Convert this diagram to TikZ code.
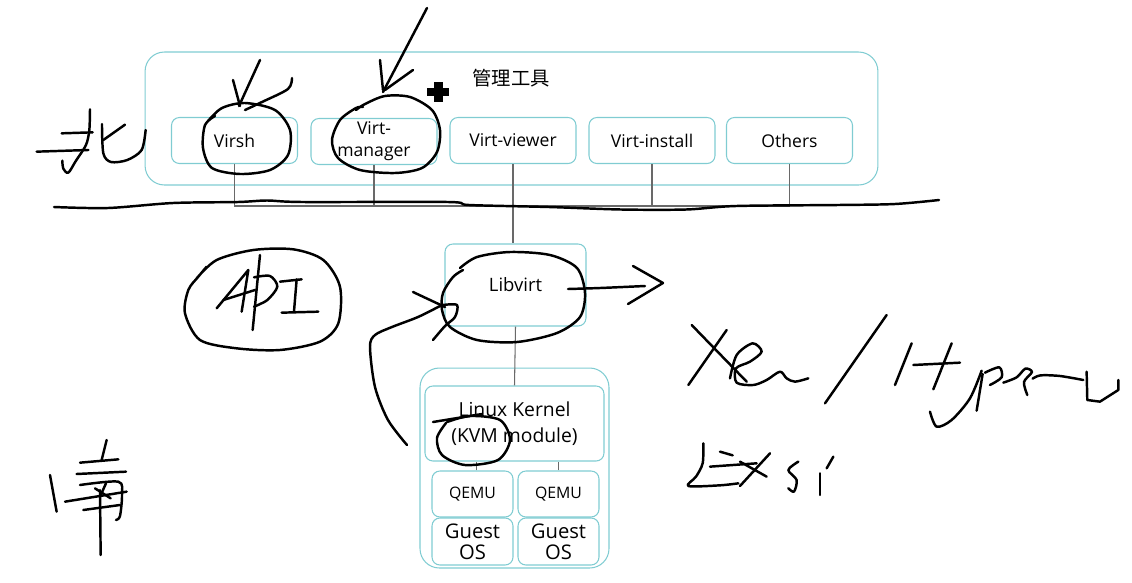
\documentclass[tikz,border=0pt]{standalone}
\usepackage{fontspec}
\setmainfont{Open Sans}
\newfontfamily\cjkfont{Noto Sans CJK SC}
\usepackage{tikz}
\usetikzlibrary{positioning, calc}
\definecolor{boxcyan}{RGB}{128,204,210}
\definecolor{linkgray}{RGB}{105,105,105}

\begin{document}
\begin{tikzpicture}[x=0.02cm, y=-0.02cm,
  group/.style={draw=boxcyan, line width=0.6pt, rounded corners=11pt, inner sep=0pt},
  tool/.style={draw=boxcyan, line width=0.6pt, rounded corners=4.5pt, inner sep=0pt, align=center,
    minimum width=2.52cm, minimum height=0.92cm, font=\fontsize{10}{12.5}\selectfont},
  vmbox/.style={tool, minimum width=1.62cm},
  link/.style={linkgray, line width=0.6pt},
  ink/.style={black, line width=1.4pt, line cap=round, line join=round}]
  \useasboundingbox (0,0) rectangle (1132,582);
  %% Management tools
  \node[group, minimum width=14.66cm, minimum height=2.66cm] (mgmt) at (511.5,118.5) {};
  \node[font=\cjkfont\fontsize{11}{13}\selectfont] (mgmtlabel) at (511,78) {管理工具};
  \node[tool] (virsh) at (234.5,140.5) {Virsh};
  \node[tool] (virtmgr) at (374,141.5) {Virt-\\manager};
  \node[tool] (viewer) at (513,140.5) {Virt-viewer};
  \node[tool] (install) at (652,140.5) {Virt-install};
  \node[tool] (others) at (789.5,140.5) {Others};
  %% Libvirt and the host
  \node[tool, minimum width=2.82cm, minimum height=1.64cm, font=\fontsize{10.5}{12}\selectfont] (libvirt) at (515.5,285) {Libvirt};
  \node[group, minimum width=3.78cm, minimum height=4cm] (host) at (514.5,468) {};
  \node[tool, minimum width=3.58cm, minimum height=1.5cm, font=\fontsize{11}{15}\selectfont] (kernel) at (514.5,423.5) {Linux Kernel\\(KVM module)};
  \node[vmbox, font=\fontsize{9}{11}\selectfont] (qemua) at (472.5,494) {QEMU};
  \node[vmbox, font=\fontsize{9}{11}\selectfont] (qemub) at (558.5,494) {QEMU};
  \node[vmbox, minimum height=0.94cm, font=\fontsize{11.5}{12}\selectfont] (guesta) at (472.5,541.5) {Guest\\OS};
  \node[vmbox, minimum height=0.94cm, font=\fontsize{11.5}{12}\selectfont] (guestb) at (558.5,541.5) {Guest\\OS};
  %% Connections
  \coordinate (bus) at (0,206);
  \draw[link] (virsh.south) -- (virsh.south |- bus) -- (others.south |- bus) -- (others.south);
  \draw[link] (virtmgr.south) -- (virtmgr.south |- bus);
  \draw[link] (install.south) -- (install.south |- bus);
  \draw[link] (viewer.south) -- (viewer.south |- libvirt.north);
  \draw[link] (libvirt.south) -- (kernel.north);
  \draw[link] ($(qemua.north)+(4,0)$) -- ($(qemua.north |- kernel.south)+(4,0)$);
  \draw[link] (qemub.north) -- (qemub.north |- kernel.south);
  %% Cursor mark
  \fill (434,82) rectangle (443,102);
  \fill (427,88) rectangle (449,96);
  %% Hand drawn notes
  \draw[ink] plot[smooth] coordinates {(54,207) (108,208) (173,203) (238,202) (267,200.5) (303,202) (448,202) (469,205) (549,207) (621,209.5) (686,209.5) (736,206) (838,205) (895,204) (939,200)};
  \draw[ink] plot[smooth] coordinates {(208,121) (222,108) (245,103) (275,110) (290,130) (288,155) (270,170) (240,174) (212,168) (203,148) (205,125) (215,116)};
  \draw[ink] (260,60) -- (239,106);
  \draw[ink] (233,80) -- (240,106);
  \draw[ink] plot[smooth] coordinates {(292,78) (288,89) (262,102) (245,110)};
  \draw[ink] plot[smooth] coordinates {(356,110) (365,104) (385,96) (410,97) (432,110) (440,130) (437,152) (422,168) (395,173) (360,170) (338,158) (332,140) (340,120) (356,108) (363,107)};
  \draw[ink] (427,8) -- (383,92);
  \draw[ink] (380,60) -- (383,90);
  \draw[ink] (413,70) -- (385,90);
  \draw[ink] plot[smooth] coordinates {(460,268) (477,257) (510,252) (550,255) (577,268) (585,293) (580,317) (557,333) (517,342) (477,340) (450,327) (442,310) (443,293) (453,277) (463,270)};
  \draw[ink] plot[smooth] coordinates {(568,289) (600,288) (645,286)};
  \draw[ink] (633,266) -- (663,283) -- (628,304);
  \draw[ink] plot[smooth] coordinates {(407,445) (388,420) (375,387) (370,347) (375,335) (392,327) (418,317) (440,306)};
  \draw[ink] (413,292) -- (445,307);
  \draw[ink] plot[smooth] coordinates {(443,305) (457,305) (455,317) (445,326) (433,340)};
  \draw[ink] plot[smooth] coordinates {(447,422) (470,416) (500,420) (510,440) (498,460) (465,465) (442,455) (437,438) (446,423)};
  \draw[ink] (433,422) -- (482,414);
  %% North
  \begin{scope}[shift={(0,90)}, scale=0.3333]
    \draw[ink] (110,185) -- (265,180);
    \draw[ink] (185,130) -- (278,127);
    \draw[ink] plot[smooth] coordinates {(270,58) (268,120) (258,165) (228,212) (205,248) (190,236) (187,212)};
    \draw[ink] plot[smooth] coordinates {(306,102) (310,190) (333,216) (382,210) (425,180) (437,120)};
    \draw[ink] (310,150) -- (375,104);
  \end{scope}
  %% API
  \begin{scope}[shift={(170,240)}, scale=0.3333]
    \draw[ink] plot[smooth] coordinates {(80,115) (140,60) (250,30) (370,28) (460,60) (510,140) (505,250) (450,305) (330,330) (200,325) (90,300) (45,220) (55,150) (85,110) (110,80)};
    \draw[ink] (140,205) -- (235,90) -- (215,215);
    \draw[ink] (160,180) -- (255,150);
    \draw[ink] (270,45) -- (248,270);
    \draw[ink] plot[smooth] coordinates {(252,112) (300,108) (322,140) (292,180) (252,200)};
    \draw[ink] (330,125) -- (395,118);
    \draw[ink] (380,118) -- (372,215);
    \draw[ink] (335,218) -- (445,215);
  \end{scope}
  %% South
  \begin{scope}[shift={(30,440)}, scale=0.3333]
    \draw[ink] (60,105) -- (80,215);
    \draw[ink] (230,0) -- (215,60);
    \draw[ink] (150,68) -- (265,58);
    \draw[ink] (140,102) -- (288,95);
    \draw[ink] plot[smooth] coordinates {(150,135) (265,125) (276,165) (270,228) (258,240)};
    \draw[ink] (195,145) -- (242,175);
    \draw[ink] (228,130) -- (210,170);
    \draw[ink] (105,185) -- (290,155);
    \draw[ink] (160,210) -- (270,195);
    \draw[ink] (210,150) -- (212,345);
  \end{scope}
  %% Other hypervisors
  \begin{scope}[shift={(670,300)}, scale=0.3333]
    \draw[ink] (65,75) -- (230,245);
    \draw[ink] (170,90) -- (55,255);
    \draw[ink] plot[smooth] coordinates {(180,235) (200,165) (248,130) (275,155) (240,185) (198,205) (200,248) (250,255) (290,240) (330,215) (350,235) (375,245) (415,235)};
    \draw[ink] (650,45) -- (465,310);
    \draw[ink] (725,130) -- (675,255);
    \draw[ink] (730,195) -- (870,188);
    \draw[ink] (845,130) -- (790,268);
    \draw[ink] plot[smooth] coordinates {(780,335) (800,380) (845,360) (900,295) (935,212)};
    \draw[ink] (938,222) -- (920,332);
    \draw[ink] plot[smooth] coordinates {(945,218) (988,202) (995,232) (960,255)};
    \draw[ink] plot[smooth] coordinates {(1000,248) (1040,232) (1066,206) (1086,216) (1062,246) (1072,285)};
    \draw[ink] plot[smooth] coordinates {(1088,236) (1112,226) (1170,228) (1240,240)};
    \draw[ink] (1250,215) -- (1252,300) -- (1290,305) -- (1345,270) -- (1345,240);
    \draw[ink] plot[smooth] coordinates {(100,430) (98,490) (78,530) (55,558) (150,556) (205,550)};
    \draw[ink] (150,455) -- (188,466);
    \draw[ink] (120,500) -- (260,490);
    \draw[ink] (210,485) -- (290,530);
    \draw[ink] (300,460) -- (210,558);
    \draw[ink] plot[smooth] coordinates {(385,485) (355,510) (380,540) (372,575) (355,565)};
    \draw[ink] (450,520) -- (450,585);
    \draw[ink] (470,505) -- (490,470);
  \end{scope}
\end{tikzpicture}
\end{document}
